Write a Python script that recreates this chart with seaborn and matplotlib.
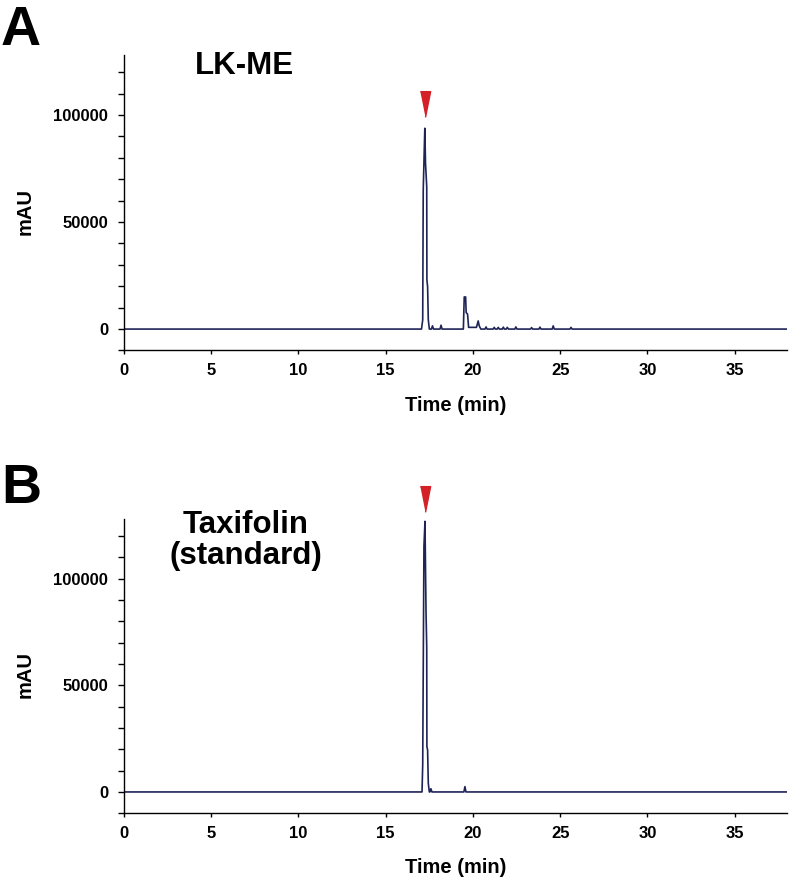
import numpy as np
import pandas as pd
import matplotlib.pyplot as plt
import seaborn as sns
from matplotlib.ticker import MultipleLocator

# LK-ME chromatogram (panel A), main features
time_a = [0, 17.05, 17.12, 17.15, 17.24, 17.28, 17.35, 17.36, 17.40, 17.44, 17.50,
          19.45, 19.50, 19.58, 19.61, 19.69, 19.75, 20.20, 20.30, 20.36, 20.45, 38]
mau_a = [0, 0, 4300, 65000, 93800, 77500, 66500, 23000, 19800, 4300, 0,
         0, 15000, 15000, 7700, 7000, 800, 800, 3800, 1500, 0, 0]
# small peaks in panel A
small_t_a = [17.68, 18.17, 20.75, 21.22, 21.45, 21.74, 21.97, 22.46, 23.36, 23.84, 24.60, 25.62]
small_h_a = [1500, 1800, 1000, 800, 800, 900, 800, 1000, 700, 900, 1500, 800]

# Taxifolin standard (panel B)
time_b = [0, 17.08, 17.12, 17.19, 17.25, 17.31, 17.35, 17.36, 17.40, 17.44, 17.50, 38]
mau_b = [0, 0, 12700, 115000, 126900, 84000, 68000, 21300, 19700, 4000, 0, 0]
small_t_b = [17.59, 19.54]
small_h_b = [1500, 2500]

peak_time = 17.25
arrow_y = [105000, 137500]
titles = ['LK-ME', 'Taxifolin\n(standard)']
letters = ['A', 'B']


def trace(t, v, st, sh, w=0.06):
    tt = list(t)
    vv = list(v)
    for x, h in zip(st, sh):
        tt += [x - w, x, x + w]
        vv += [0, h, 0]
    df = pd.DataFrame({'time': tt, 'mAU': vv})
    return df.sort_values('time', kind='mergesort')


sns.set_style('ticks')
plt.rcParams['font.family'] = ['Liberation Sans', 'DejaVu Sans']
plt.rcParams['font.weight'] = 'bold'
for k in ['text.color', 'axes.labelcolor', 'xtick.color', 'ytick.color', 'axes.edgecolor']:
    plt.rcParams[k] = 'black'

line_col = '#1f2456'
red = '#d42027'

fig = plt.figure(figsize=(7.9, 8.9), dpi=100)
ax_a = fig.add_axes([0.157, 0.6062, 0.8392, 0.3320])
ax_b = fig.add_axes([0.157, 0.0862, 0.8392, 0.3307])

data = [trace(time_a, mau_a, small_t_a, small_h_a),
        trace(time_b, mau_b, small_t_b, small_h_b)]

tri = [(-0.2, 0.5), (0.2, 0.5), (0, -0.5)]

for i, ax in enumerate([ax_a, ax_b]):
    sns.lineplot(data=data[i], x='time', y='mAU', ax=ax, color=line_col,
                 lw=1.2, estimator=None, sort=False)
    ax.plot([peak_time], [arrow_y[i]], marker=tri, ms=18.5, color=red,
            ls='none', clip_on=False)
    ax.set_xlim(0, 38)
    ax.set_ylim(-10000, 128000)
    ax.xaxis.set_major_locator(MultipleLocator(5))
    ax.yaxis.set_major_locator(MultipleLocator(50000))
    ax.yaxis.set_minor_locator(MultipleLocator(10000))
    sns.despine(ax=ax)
    for s in ['left', 'bottom']:
        ax.spines[s].set_linewidth(1.0)
        ax.spines[s].set_color('black')
    ax.tick_params(axis='x', length=3, width=1, pad=6, labelsize=12)
    ax.tick_params(axis='y', which='both', length=4.3, width=1, pad=7, labelsize=12)
    for lab in ax.get_xticklabels() + ax.get_yticklabels():
        lab.set_fontweight('bold')
    ax.set_xlabel('Time (min)', fontsize=14.5, fontweight='bold')
    ax.set_ylabel('mAU', fontsize=14.5, fontweight='bold')
    ax.xaxis.set_label_coords(0.5, -0.185)
    ax.xaxis.label.set_va('center')
    ax.yaxis.set_label_coords(-0.1486, 0.47)
    ax.yaxis.label.set_va('center')

fig.text(0.001, 1 - 45 / 890, letters[0], fontsize=40, fontweight='bold', va='baseline')
fig.text(0.001, 1 - 503 / 890, letters[1], fontsize=40, fontweight='bold', va='baseline')
fig.text(244 / 790, 1 - 74 / 890, titles[0], fontsize=22.5, fontweight='bold',
         ha='center', va='baseline')
fig.text(246 / 790, 1 - 510 / 890, titles[1], fontsize=22.5, fontweight='bold',
         ha='center', va='top', linespacing=1.05)

fig.savefig('out.png', dpi=100)
